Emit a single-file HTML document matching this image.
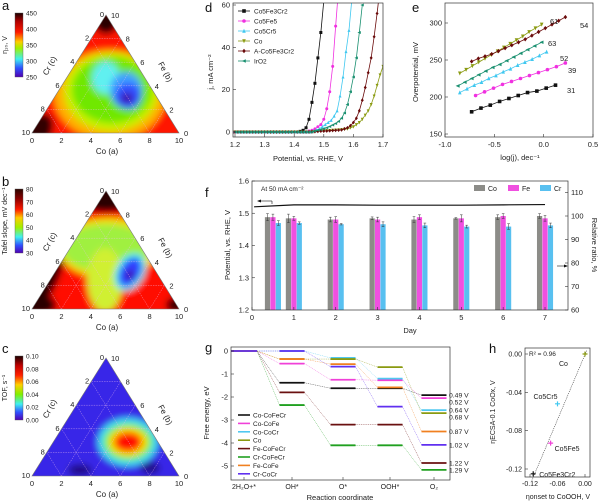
<!DOCTYPE html>
<html><head><meta charset="utf-8"><style>
html,body{margin:0;padding:0;background:#fff;}
svg{display:block;font-family:"Liberation Sans",Arial,sans-serif;}
</style></head><body>
<svg id="fig" width="600" height="503" viewBox="0 0 600 503" xmlns="http://www.w3.org/2000/svg">
<defs>
<filter id="blur" x="-20%" y="-20%" width="140%" height="140%"><feGaussianBlur stdDeviation="3.5"/></filter>
<linearGradient id="cbA" x1="0" y1="0" x2="0" y2="1"><stop offset="0" stop-color="#1a0000"/><stop offset="0.13" stop-color="#b00000"/><stop offset="0.3" stop-color="#ff1a00"/><stop offset="0.45" stop-color="#ffcc00"/><stop offset="0.55" stop-color="#a0f000"/><stop offset="0.72" stop-color="#40f0f0"/><stop offset="0.86" stop-color="#3050ff"/><stop offset="1" stop-color="#5000b0"/></linearGradient>
</defs>
<g id="tern"></g>
<g id="pd"></g><g id="pe"></g><g id="pf"></g><g id="pg"></g><g id="ph"></g>
</svg>
<script>
// ---------- data: panel d ----------
const dNames=["Co5Fe3Cr2","Co5Fe5","Co5Cr5","Co","A-Co5Fe3Cr2","IrO2"];
const dStart=[1.20,1.20,1.205,1.20,1.20,1.20];
const dBlack=[0,0,0,0,0,0,0,0,0,0,0,0,0,0,0,0,0,0,0,0,0,0,0.3,0.8,2,6,14,23,35,47,62];
const dPink=[0,0,0,0,0,0,0,0,0,0,0,0,0,0,0,0,0,0,0,0,0,0,0,0,0,0.5,0.8,1.5,2.5,3.5,6,11,19,31,50,68];
const dCyan=[0,0,0,0,0,0,0,0,0,0,0,0,0,0,0,0,0,0,0,0,0,0,0,0,0,0,0.5,1,1.5,2.5,3.5,4.5,5.5,7.5,10,17,26,38,48,63];
const dOlive=[0,0,0,0,0,0,0,0,0,0,0,0,0,0,0,0,0,0,0,0,0,0,0,0,0,0,0.1,0.2,0.3,0.4,0.5,0.6,0.7,0.8,0.9,1,1.1,1.3,1.5,2,2.5,3.5,4.5,6,8,10,13,17,22,27,31];
const dRed=[0,0,0,0,0,0,0,0,0,0,0,0,0,0,0,0,0,0,0,0,0,0,0,0,0,0,0.1,0.2,0.3,0.4,0.4,0.5,0.6,0.7,0.8,0.9,1,1.5,2,3,4.5,6.5,10,15,21,28,35,45,56,68];
const dTeal=[0,0,0,0,0,0,0,0,0,0,0,0,0,0,0,0,0,0,0,0,0,0,0,0,0,0,0,0.5,0.8,1.2,1.6,2,2.6,3.3,4,5,6.5,9,13,19,26,35,47,60];
const dXTicks=[1.2,1.3,1.4,1.5,1.6,1.7];
const dYTicks=[0,20,40,60];
// ---------- data: panel e ----------
const eX0=[-0.73,-0.69,-0.85,-0.85,-0.73,-0.87];
const eX1=[0.12,0.22,0.03,-0.02,0.22,-0.02];
const eBlack=[180,185,189,194,198,202,206,208,212,216];
const ePink=[202,207,212,217,221,225,229,233,237,241,246];
const eCyan=[206,211,216,220,225,229,234,238,243,247,251,256,261];
const eOlive=[232,237,242,247,252,257,262,267,272,277,282,288,293,298];
const eRed=[248,252,255,258,262,266,270,274,278,283,288,293,298,303,308];
const eTeal=[215,220,225,230,235,240,244,249,254,259,264,269,274];
const eSlopes=["31","39","52","63","61","54"];
const eXTicks=[-1.0,-0.5,0.0,0.5];
const eYTicks=[150,200,250,300];
// ---------- data: panel f ----------
const fDays=[0.5,1,2,3,4,5,6,7];
const fCo=[99.5,99,98.5,99,98.5,99,99.5,100];
const fFe=[99.5,99,98.5,98.5,99.5,99,100,99];
const fCr=[97,97,96.5,96.5,96,95.5,95.5,96];
const fCoErr=[1.5,1.8,1,0.6,1.2,0.3,1,1];
const fFeErr=[1.3,0.8,1.2,1,1,1.5,1,1.2];
const fCrErr=[1,0.5,0.3,1,1,0.6,1.2,1];
const fPotT=[0.05,1,2,3,4,5,6,7];
const fPot=[1.52,1.526,1.526,1.525,1.525,1.525,1.526,1.527];
const fLeftTicks=[1.2,1.3,1.4,1.5,1.6];
const fRightTicks=[60,70,80,90,100,110];
const fXTicks=[0,1,2,3,4,5,6,7];
// ---------- data: panel g ----------
const gStates=["2H\u2082O+*","OH*","O*","OOH*","O\u2082"];
const gNames=["Co-CoFeCr","Co-CoFe","Co-CoCr","Co","Fe-CoFeCr","Cr-CoFeCr","Fe-CoFe","Cr-CoCr"];
const gColors=["#111","#f040d8","#50c8f0","#8a9a10","#6a1010","#20a020","#f08020","#6030f0"];
const gE=[[0,-1.38,-1.62,-1.62,-1.92],[0,-0.55,-1.25,-1.27,-2.05],[0,0,-0.3,-1.2,-2.57],[0,-0.35,-0.35,-0.7,-2.7],[0,-1.8,-3.2,-3.2,-4.87],[0,-2.35,-4.1,-4.1,-5.17],[0,-0.35,-0.57,-1.58,-3.5],[0,0,-0.68,-2.42,-4.08]];
const gOver=["0.49 V","0.52 V","0.64 V","0.68 V","1.22 V","1.29 V","0.87 V","1.02 V"];
const gYTicks=[0,-1,-2,-3,-4,-5];
// ---------- data: panel h ----------
const hNames=["Co","Co5Cr5","Co5Fe5","Co5Fe3Cr2"];
const hX=[0,-0.06,-0.075,-0.113];
const hY=[0,-0.052,-0.093,-0.125];
const hTicks=[0,-0.04,-0.08,-0.12];
const hXTicks=[-0.12,-0.06,0.00];

const NS="http://www.w3.org/2000/svg";
function mk(parent,tag,attrs,text){const e=document.createElementNS(NS,tag);for(const k in attrs)e.setAttribute(k,attrs[k]);if(text!==undefined)e.textContent=text;parent.appendChild(e);return e;}
function txt(parent,x,y,s,size,anchor,extra){const t=mk(parent,"text",Object.assign({x:x,y:y,"font-size":size||7,"text-anchor":anchor||"middle",fill:"#222"},extra||{}),s);return t;}
function marker(g,shape,x,y,c,r){r=r||2;let e;
 if(shape=="sq")e=mk(g,"rect",{x:x-r,y:y-r,width:2*r,height:2*r,fill:c});
 else if(shape=="ci")e=mk(g,"circle",{cx:x,cy:y,r:r,fill:c});
 else if(shape=="tu")e=mk(g,"polygon",{points:`${x},${y-r-0.4} ${x-r},${y+r} ${x+r},${y+r}`,fill:c});
 else if(shape=="td")e=mk(g,"polygon",{points:`${x},${y+r+0.4} ${x-r},${y-r} ${x+r},${y-r}`,fill:c});
 else if(shape=="di")e=mk(g,"polygon",{points:`${x},${y-r-0.4} ${x+r},${y} ${x},${y+r+0.4} ${x-r},${y}`,fill:c});
 else e=mk(g,"polygon",{points:`${x-r-0.4},${y} ${x+r},${y-r} ${x+r},${y+r}`,fill:c});
 return e;}

// ================= ternary panels =================
const tern=document.getElementById("tern");
function ternary(id,letter,ty,blobs,cb){
 const g=mk(tern,"g",{});
 
 
 const T=[106,ty],L=[32,ty+118],R=[179,ty+118];
 const cp=mk(g,"clipPath",{id:"cp"+id});mk(cp,"polygon",{points:`${T} ${L} ${R}`});
 const inner=mk(g,"g",{"clip-path":`url(#cp${id})`});
 const bl=mk(inner,"g",{filter:"url(#blur)"});
 blobs.forEach(b=>{if(b.poly)mk(bl,"polygon",{points:b.poly.map(p=>p.join(",")).join(" "),fill:b.c});else mk(bl,"ellipse",{cx:b.x,cy:b.y,rx:b.rx,ry:b.ry,fill:b.c,transform:b.r?`rotate(${b.r} ${b.x} ${b.y})`:""});});
 const P=(a,b,c)=>[L[0]*c/10+R[0]*a/10+T[0]*b/10,L[1]*c/10+R[1]*a/10+T[1]*b/10];
 for(let k=2;k<10;k+=2){
  [[P(10-k,k,0),P(0,k,10-k)],[P(k,10-k,0),P(k,0,10-k)],[P(10-k,0,k),P(0,10-k,k)]].forEach(s=>mk(inner,"line",{x1:s[0][0],y1:s[0][1],x2:s[1][0],y2:s[1][1],stroke:"#f0c0f0","stroke-width":0.5,"stroke-dasharray":"1.5,1",opacity:0.7}));
 }
 mk(g,"polygon",{points:`${T} ${L} ${R}`,fill:"none",stroke:"#777","stroke-width":0.6});
 for(let k=0;k<=10;k+=2){
  const pb=P(k,0,10-k);txt(g,pb[0],pb[1]+10,String(k),7.5);
  const pr=P(10-k,k,0);txt(g,pr[0]+5,pr[1]+3,String(k),7.5,"start");
  const pl=P(0,10-k,k);txt(g,pl[0]-2,pl[1]+2,String(k),7.5,"end");
 }
 txt(g,107,ty+139,"Co (a)",8);
 txt(g,52,ty+52,"Cr (c)",8,"middle",{transform:`rotate(-62 52 ${ty+52})`});
 txt(g,163,ty+58,"Fe (b)",8,"middle",{transform:`rotate(62 163 ${ty+58})`});
 const lt=txt(g,2,ty-5,letter,13,"start",{fill:"#111"});
 
 
 const cg=mk(g,"g",{});
 
 
 const top=ty-2,h=64;
 mk(cg,"rect",{x:15,y:top,width:8,height:h,fill:"url(#"+cb.grad+")",stroke:"#555","stroke-width":0.4});
 cb.ticks.forEach((t,i)=>{const y=top+h*i/(cb.ticks.length-1);txt(cg,26,y+2.5,t,6.5,"start");});
 txt(cg,7,top+h/2,cb.title,7,"middle",{transform:`rotate(-90 7 ${top+h/2})`});
}
function grad(id,stops){const d=document.querySelector("defs");const lg=mk(d,"linearGradient",{id:id,x1:0,y1:0,x2:0,y2:1});stops.forEach(s=>mk(lg,"stop",{offset:s[0],"stop-color":s[1]}));}
grad("cbB",[[0,"#2a0500"],[0.15,"#8a0000"],[0.32,"#ff1a00"],[0.45,"#ffcc00"],[0.6,"#a0f000"],[0.75,"#40f0f0"],[0.88,"#3050ff"],[1,"#5000b0"]]);
grad("cbC",[[0,"#1a0000"],[0.15,"#c00000"],[0.3,"#ff2000"],[0.45,"#ffd000"],[0.6,"#80f000"],[0.75,"#40f0f0"],[0.88,"#3050ff"],[1,"#5000b0"]]);

ternary("a","a",15,[
 {poly:[[0,0],[220,0],[220,200],[0,200]],c:"#ff1800"},
 {x:106,y:22,rx:12,ry:12,c:"#2a0000"},{x:36,y:133,rx:22,ry:14,c:"#300000",r:-55},
 {x:110,y:95,rx:56,ry:45,c:"#ffb000"},{x:111,y:92,rx:47,ry:39,c:"#c8f000"},{x:112,y:90,rx:40,ry:33,c:"#70e800"},
 {x:106,y:78,rx:14,ry:16,c:"#60f0f0"},{x:126,y:90,rx:16,ry:18,c:"#40a0ff"},{x:128,y:96,rx:13,ry:13,c:"#3050ff"},{x:127,y:98,rx:6,ry:5,c:"#4000a0"}
],{grad:"cbA",ticks:["450","400","350","300","250"],title:"\u03b7\u2081\u2080, V"});
ternary("b","b",191,[
 {poly:[[0,150],[220,150],[220,350],[0,350]],c:"#ff1000"},
 {x:106,y:196,rx:32,ry:16,c:"#2a0000"},{x:45,y:280,rx:12,ry:40,c:"#2a0000",r:25},{x:40,y:305,rx:16,ry:10,c:"#2a0000"},{x:176,y:305,rx:10,ry:8,c:"#3a0000"},
 {x:108,y:248,rx:50,ry:30,c:"#f0e000"},{x:106,y:248,rx:44,ry:24,c:"#a0f040"},{x:105,y:280,rx:18,ry:32,c:"#d0f030"},
 {x:130,y:272,rx:14,ry:20,c:"#40f0f0",r:30},{x:130,y:272,rx:10,ry:16,c:"#3040ff",r:30},{x:130,y:275,rx:4,ry:5,c:"#4000a0"}
],{grad:"cbB",ticks:["80","70","60","50","40","30"],title:"Tafel slope, mV dec\u207b\u00b9"});
ternary("c","c",358,[
 {poly:[[0,330],[220,330],[220,503],[0,503]],c:"#3828e8"},
 {x:80,y:470,rx:12,ry:6,c:"#20108a"},{x:150,y:468,rx:10,ry:6,c:"#20108a"},
 {x:128,y:442,rx:30,ry:24,c:"#40e0f0"},{x:128,y:442,rx:24,ry:18,c:"#80f000"},{x:128,y:442,rx:19,ry:14,c:"#ffe000"},{x:128,y:442,rx:14,ry:10,c:"#ff1000"}
],{grad:"cbC",ticks:["0.10","0.08","0.06","0.04","0.02","0.00"],title:"TOF, s\u207b\u00b9"});

// ================= panel d =================
(function(){
 const g=document.getElementById("pd");
 
 
 const X=v=>235+(v-1.2)/0.5*148, Y=j=>132-j/60*127;
 txt(g,205,12,"d",13,"start",{fill:"#111"});
 const cp=mk(g,"clipPath",{id:"cpd"});mk(cp,"rect",{x:233,y:3,width:150,height:134});
 const series=[[dBlack,"#111","sq"],[dPink,"#f030e0","ci"],[dCyan,"#40c8f0","tu"],[dOlive,"#8a9a10","td"],[dRed,"#6a0a0a","di"],[dTeal,"#1a9070","tl"]];
 const pl=mk(g,"g",{"clip-path":"url(#cpd)"});
 series.forEach((s,i)=>{
  const sg=mk(pl,"g",{});
  
  
  const pts=s[0].map((j,k)=>[X(dStart[i]+k*0.01),Y(j)]);
  mk(sg,"polyline",{points:pts.map(p=>p.join(",")).join(" "),fill:"none",stroke:s[1],"stroke-width":0.8});
  pts.forEach(p=>marker(sg,s[2],p[0],p[1],s[1],1.5));
 });
 mk(g,"rect",{x:233,y:3,width:150,height:134,fill:"none",stroke:"#333","stroke-width":0.7});
 dXTicks.forEach(v=>{mk(g,"line",{x1:X(v),y1:137,x2:X(v),y2:134,stroke:"#333","stroke-width":0.6});txt(g,X(v),147,v.toFixed(1),7.5);});
 dYTicks.forEach(v=>{mk(g,"line",{x1:233,y1:Y(v),x2:236,y2:Y(v),stroke:"#333","stroke-width":0.6});txt(g,230,Y(v)+2.5,String(v),7.5,"end");});
 txt(g,308,161,"Potential, vs. RHE, V",7.5);
 txt(g,213,72,"j, mA cm\u207b\u00b2",7.5,"middle",{transform:"rotate(-90 213 72)"});
 const lg=mk(g,"g",{});
 
 
 series.forEach((s,i)=>{const y=11+i*10;mk(lg,"line",{x1:238,y1:y,x2:250,y2:y,stroke:s[1],"stroke-width":0.8});marker(lg,s[2],244,y,s[1],1.8);txt(lg,254,y+2.5,dNames[i],6.5,"start");});
})();

// ================= panel e =================
(function(){
 const g=document.getElementById("pe");
 
 
 const X=v=>445+(v+1)/1.5*148, Y=m=>134-(m-150)/150*111;
 txt(g,412,12,"e",13,"start",{fill:"#111"});
 mk(g,"rect",{x:445,y:3,width:148,height:134,fill:"none",stroke:"#333","stroke-width":0.7});
 eXTicks.forEach(v=>{mk(g,"line",{x1:X(v),y1:137,x2:X(v),y2:134,stroke:"#333","stroke-width":0.6});txt(g,X(v),147,v.toFixed(1),7.5);});
 eYTicks.forEach(v=>{mk(g,"line",{x1:445,y1:Y(v),x2:448,y2:Y(v),stroke:"#333","stroke-width":0.6});txt(g,442,Y(v)+2.5,String(v),7.5,"end");});
 txt(g,520,160,"log(j), dec\u207b\u00b9",7.5);
 txt(g,418,72,"Overpotential, mV",7.5,"middle",{transform:"rotate(-90 418 72)"});
 const series=[[eBlack,"#111","sq"],[ePink,"#f030e0","ci"],[eCyan,"#40c8f0","tu"],[eOlive,"#8a9a10","td"],[eRed,"#6a0a0a","di"],[eTeal,"#1a9070","tl"]];
 series.forEach((s,i)=>{
  const sg=mk(g,"g",{});
  
  
  const n=s[0].length;
  const pts=s[0].map((m,k)=>[X(eX0[i]+(eX1[i]-eX0[i])*k/(n-1)),Y(m)]);
  mk(sg,"polyline",{points:pts.map(p=>p.join(",")).join(" "),fill:"none",stroke:s[1],"stroke-width":0.8});
  pts.forEach(p=>marker(sg,s[2],p[0],p[1],s[1],1.8));
 });
 const lab=[[567,93],[568,73],[560,61],[548,46],[550,24],[580,28]];
 eSlopes.forEach((s,i)=>txt(g,lab[i][0],lab[i][1],s,7.5,"start"));
})();

// ================= panel f =================
(function(){
 const g=document.getElementById("pf");
 
 
 const X=d=>252+d*41.86, YL=v=>310-(v-1.2)/0.4*129, YR=r=>310-(r-60)/40*94;
 txt(g,205,197,"f",13,"start",{fill:"#111"});
 const groups=[[fCo,fCoErr,"#8c8c88",-0.13,"Co"],[fFe,fFeErr,"#f050e0",0,"Fe"],[fCr,fCrErr,"#58c0f0",0.13,"Cr"]];
 groups.forEach(gr=>{
  const sg=mk(g,"g",{});
  
  
  fDays.forEach((d,i)=>{
   const cx=X(d+gr[3]),y=YR(gr[0][i]);
   mk(sg,"rect",{x:cx-2.6,y:y,width:5.2,height:310-y,fill:gr[2]});
   const e1=YR(gr[0][i]+gr[1][i]),e2=YR(gr[0][i]-gr[1][i]);
   mk(sg,"line",{x1:cx,y1:e1,x2:cx,y2:e2,stroke:"#333","stroke-width":0.5});
   mk(sg,"line",{x1:cx-1.3,y1:e1,x2:cx+1.3,y2:e1,stroke:"#333","stroke-width":0.5});
   mk(sg,"line",{x1:cx-1.3,y1:e2,x2:cx+1.3,y2:e2,stroke:"#333","stroke-width":0.5});
  });
 });
 const pl=mk(g,"polyline",{points:fPotT.map((t,i)=>X(t)+","+YL(fPot[i])).join(" "),fill:"none",stroke:"#111","stroke-width":1.2});
 
 
 mk(g,"rect",{x:252,y:181,width:316,height:129,fill:"none",stroke:"#333","stroke-width":0.7});
 fXTicks.forEach(v=>{mk(g,"line",{x1:X(v),y1:310,x2:X(v),y2:307,stroke:"#333","stroke-width":0.6});txt(g,X(v),320,String(v),7.5);});
 fLeftTicks.forEach(v=>{mk(g,"line",{x1:252,y1:YL(v),x2:255,y2:YL(v),stroke:"#333","stroke-width":0.6});txt(g,249,YL(v)+2.5,v.toFixed(1),7.5,"end");});
 fRightTicks.forEach(v=>{mk(g,"line",{x1:568,y1:YR(v),x2:565,y2:YR(v),stroke:"#333","stroke-width":0.6});txt(g,571,YR(v)+2.5,String(v),7.5,"start");});
 txt(g,410,333,"Day",7.5);
 txt(g,230,245,"Potential, vs. RHE, V",7.5,"middle",{transform:"rotate(-90 230 245)"});
 txt(g,592,245,"Relative ratio, %",7.5,"middle",{transform:"rotate(90 592 245)"});
 txt(g,261,191,"At 50 mA cm\u207b\u00b2",6.5,"start");
 mk(g,"line",{x1:272,y1:201,x2:258,y2:201,stroke:"#111","stroke-width":0.6});mk(g,"polygon",{points:"257,201 261,199.5 261,202.5",fill:"#111"});
 mk(g,"line",{x1:272,y1:201,x2:272,y2:204,stroke:"#111","stroke-width":0.6});
 mk(g,"line",{x1:557,y1:266,x2:567,y2:266,stroke:"#111","stroke-width":0.6});mk(g,"polygon",{points:"568,266 564,264.5 564,267.5",fill:"#111"});
 const lg=mk(g,"g",{});
 
 
 [[474,"#8c8c88","Co"],[508,"#f050e0","Fe"],[540,"#58c0f0","Cr"]].forEach(l=>{mk(lg,"rect",{x:l[0],y:185,width:11,height:6,fill:l[1]});txt(lg,l[0]+14,191,l[2],7,"start");});
})();

// ================= panel g =================
(function(){
 const g=document.getElementById("pg");
 
 
 const cx=[244,292,343,390,434], hw=[13,12.5,12.5,12.5,12.5];
 const Y=e=>351-e/5*115;
 txt(g,205,352,"g",13,"start",{fill:"#111"});
 // label positions with minimum spacing
 const order=gE.map((a,i)=>i).sort((a,b)=>gE[b][4]-gE[a][4]);
 const labY={};let last=-1e9;
 order.forEach(i=>{let y=Y(gE[i][4]);if(y<last+6.8)y=last+6.8;labY[i]=y;last=y;});
 gE.forEach((arr,i)=>{
  const sg=mk(g,"g",{});
  
  
  arr.forEach((e,k)=>{
   if(k>0)mk(sg,"line",{x1:cx[k-1]+hw[k-1],y1:Y(arr[k-1]),x2:cx[k]-hw[k],y2:Y(e),stroke:gColors[i],"stroke-width":0.5,"stroke-dasharray":"1,0.8",opacity:0.8});
   mk(sg,"line",{x1:cx[k]-hw[k],y1:Y(e),x2:cx[k]+hw[k],y2:Y(e),stroke:gColors[i],"stroke-width":1.8});
  });
  txt(sg,449,labY[i]+2.5,gOver[i],6.8,"start");
 });
 mk(g,"rect",{x:231,y:347,width:219,height:133,fill:"none",stroke:"#333","stroke-width":0.7});
 gYTicks.forEach(v=>{mk(g,"line",{x1:231,y1:Y(v),x2:234,y2:Y(v),stroke:"#333","stroke-width":0.6});txt(g,228,Y(v)+2.5,String(v),7.5,"end");});
 gStates.forEach((s,k)=>{mk(g,"line",{x1:cx[k],y1:480,x2:cx[k],y2:477,stroke:"#333","stroke-width":0.6});txt(g,cx[k],489,s,7);});
 txt(g,340,500,"Reaction coordinate",7.5);
 txt(g,209,413,"Free energy, eV",7.5,"middle",{transform:"rotate(-90 209 413)"});
 const lg=mk(g,"g",{});
 
 
 gNames.forEach((n,i)=>{const y=415+i*8.4;mk(lg,"line",{x1:238,y1:y,x2:250,y2:y,stroke:gColors[i],"stroke-width":1.6});txt(lg,253,y+2.5,n,6.5,"start");});
})();

// ================= panel h =================
(function(){
 const g=document.getElementById("ph");
 
 
 const X=v=>585+v/0.12*55, Y=v=>354-v/0.12*115;
 txt(g,489,353,"h",13,"start",{fill:"#111"});
 mk(g,"line",{x1:X(-0.116),y1:Y(-0.132),x2:X(0.004),y2:Y(0.004),stroke:"#333","stroke-width":0.6,"stroke-dasharray":"1,1"});
 const cols=["#8a9a10","#40c8f0","#f040d8","#111"];
 const lab=[[X(0)-26,Y(0)+12,"start"],[X(-0.06)-12,Y(-0.052)-5,"middle"],[X(-0.075)+4,Y(-0.093)+8,"start"],[X(-0.113)+6,Y(-0.125)+3,"start"]];
 hX.forEach((x,i)=>{
  const p=mk(g,"g",{});
  
  
  mk(p,"path",{d:`M${X(x)-2.5},${Y(hY[i])}h5M${X(x)},${Y(hY[i])-2.5}v5`,stroke:cols[i],"stroke-width":1.2});
  txt(p,lab[i][0],lab[i][1],hNames[i],7,lab[i][2]);
 });
 mk(g,"rect",{x:525,y:348,width:65,height:129,fill:"none",stroke:"#333","stroke-width":0.7});
 hTicks.forEach(v=>{mk(g,"line",{x1:525,y1:Y(v),x2:528,y2:Y(v),stroke:"#333","stroke-width":0.6});txt(g,522,Y(v)+2.5,v.toFixed(2),7,"end");});
 hXTicks.forEach(v=>{mk(g,"line",{x1:X(v),y1:477,x2:X(v),y2:474,stroke:"#333","stroke-width":0.6});txt(g,X(v),486,v.toFixed(2),7);});
 txt(g,529,356,"R\u00b2 = 0.96",6.5,"start");
 txt(g,558,499,"\u03b7onset to CoOOH, V",7);
 txt(g,495,412,"\u03b7ECSA-0.1 CoOx, V",7,"middle",{transform:"rotate(-90 495 412)"});
})();
</script>
</body></html>
